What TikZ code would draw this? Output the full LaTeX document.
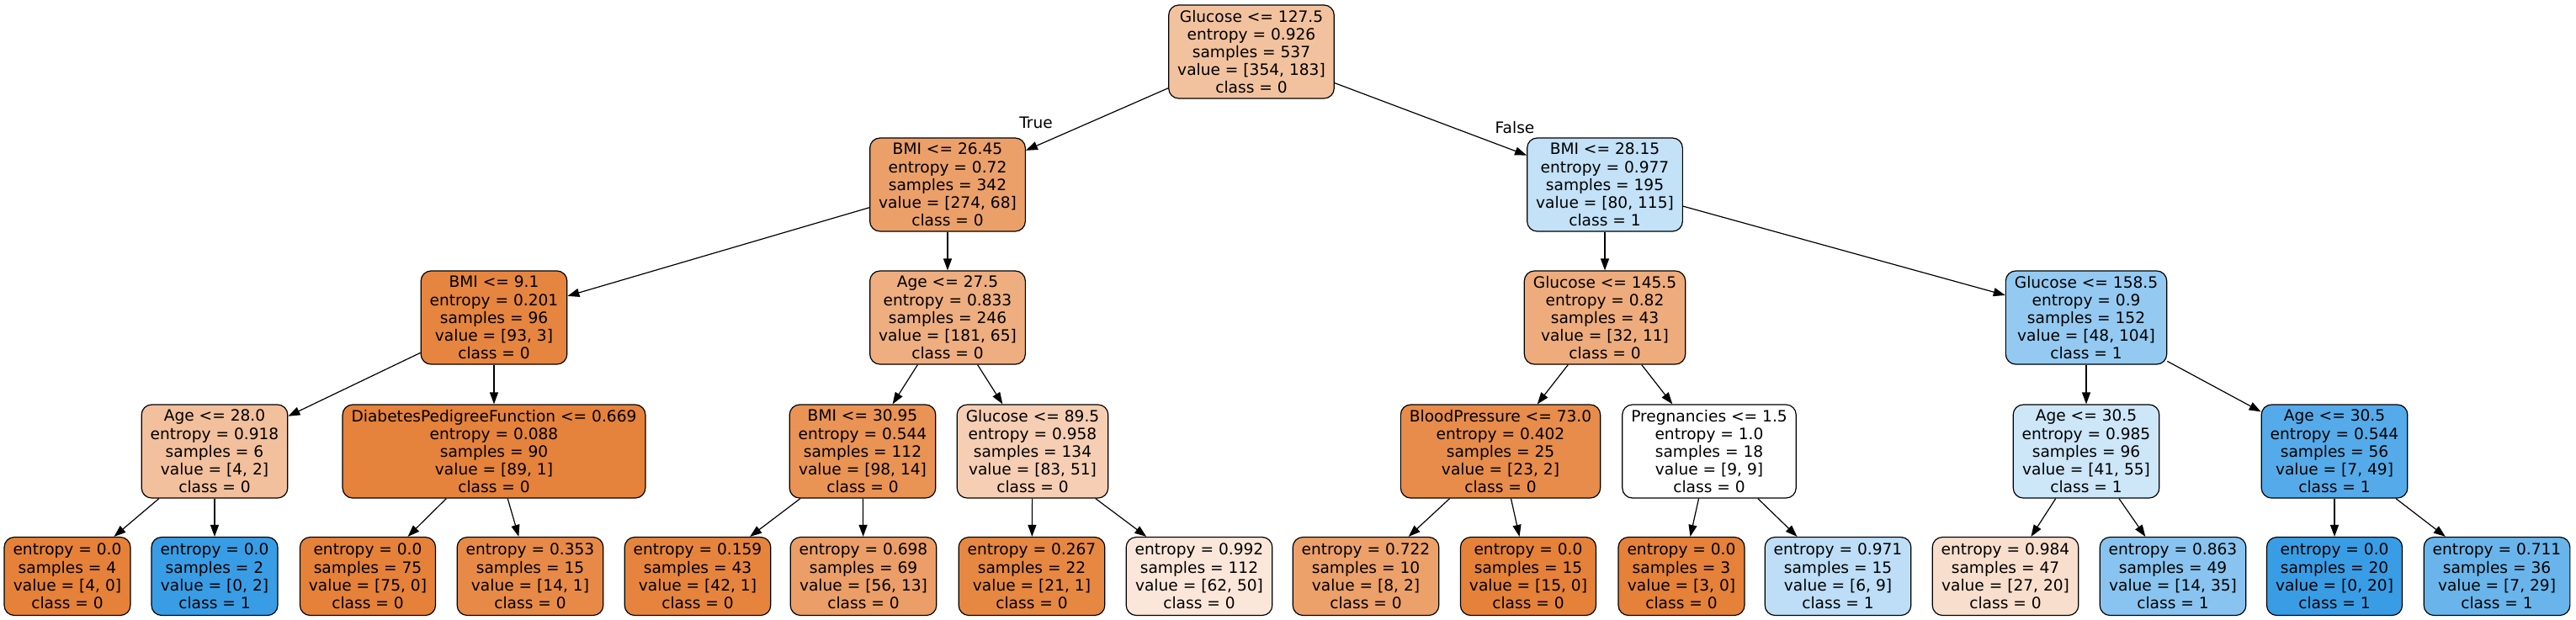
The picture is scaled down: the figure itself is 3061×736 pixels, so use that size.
\documentclass[tikz,border=0pt]{standalone}
\usepackage{fontspec}
\setmainfont{DejaVu Sans}
\usetikzlibrary{arrows.meta}
\definecolor{cRoot}{RGB}{242,194,159}
\definecolor{cA}{RGB}{235,160,106}
\definecolor{cB}{RGB}{195,225,247}
\definecolor{cAA}{RGB}{230,133,63}
\definecolor{cAB}{RGB}{238,174,128}
\definecolor{cBA}{RGB}{238,172,125}
\definecolor{cBB}{RGB}{148,202,241}
\definecolor{cAAA}{RGB}{242,192,156}
\definecolor{cAAB}{RGB}{229,130,59}
\definecolor{cABA}{RGB}{233,147,85}
\definecolor{cABB}{RGB}{245,206,179}
\definecolor{cBAA}{RGB}{231,140,74}
\definecolor{cBAB}{RGB}{255,255,255}
\definecolor{cBBA}{RGB}{205,230,248}
\definecolor{cBBB}{RGB}{85,171,233}
\definecolor{orangeP}{RGB}{229,129,57}
\definecolor{blueP}{RGB}{57,157,229}
\definecolor{lD}{RGB}{231,138,71}
\definecolor{lE}{RGB}{230,132,62}
\definecolor{lF}{RGB}{235,158,103}
\definecolor{lG}{RGB}{230,135,66}
\definecolor{lH}{RGB}{250,231,217}
\definecolor{lI}{RGB}{236,160,106}
\definecolor{lL}{RGB}{189,222,246}
\definecolor{lM}{RGB}{248,222,204}
\definecolor{lN}{RGB}{136,196,239}
\definecolor{lP}{RGB}{105,181,235}
\tikzset{
  tn/.style={draw=black, line width=0.6pt, rounded corners=6pt, align=center,
    inner xsep=5.25pt, inner ysep=2pt, font=\fontsize{9.3pt}{10.6pt}\selectfont},
  tnfive/.style={tn, minimum height=55.5pt},
  tnfour/.style={tn, minimum height=46.5pt},
  arr/.style={-{Triangle[length=7pt,width=5pt]}, line width=0.6pt},
  lbl/.style={font=\fontsize{9.3pt}{10.6pt}\selectfont, inner sep=0pt},
}
\begin{document}
\begin{tikzpicture}[x=0.5pt,y=-0.5pt]
\useasboundingbox (0,0) rectangle (3061,736);
% level 0
\node[tnfive, fill=cRoot] (n0) at (1487,61.5) {Glucose <= 127.5\\entropy = 0.926\\samples = 537\\value = [354, 183]\\class = 0};
% level 1
\node[tnfive, fill=cA] (a) at (1126,219.5) {BMI <= 26.45\\entropy = 0.72\\samples = 342\\value = [274, 68]\\class = 0};
\node[tnfive, fill=cB] (b) at (1907,219.5) {BMI <= 28.15\\entropy = 0.977\\samples = 195\\value = [80, 115]\\class = 1};
% level 2
\node[tnfive, fill=cAA] (aa) at (587,377.5) {BMI <= 9.1\\entropy = 0.201\\samples = 96\\value = [93, 3]\\class = 0};
\node[tnfive, fill=cAB] (ab) at (1126,377.5) {Age <= 27.5\\entropy = 0.833\\samples = 246\\value = [181, 65]\\class = 0};
\node[tnfive, fill=cBA] (ba) at (1907,377.5) {Glucose <= 145.5\\entropy = 0.82\\samples = 43\\value = [32, 11]\\class = 0};
\node[tnfive, fill=cBB] (bb) at (2479,377.5) {Glucose <= 158.5\\entropy = 0.9\\samples = 152\\value = [48, 104]\\class = 1};
% level 3
\node[tnfive, fill=cAAA] (aaa) at (255,536.5) {Age <= 28.0\\entropy = 0.918\\samples = 6\\value = [4, 2]\\class = 0};
\node[tnfive, fill=cAAB] (aab) at (587,536.5) {DiabetesPedigreeFunction <= 0.669\\entropy = 0.088\\samples = 90\\value = [89, 1]\\class = 0};
\node[tnfive, fill=cABA] (aba) at (1025,536.5) {BMI <= 30.95\\entropy = 0.544\\samples = 112\\value = [98, 14]\\class = 0};
\node[tnfive, fill=cABB] (abb) at (1227,536.5) {Glucose <= 89.5\\entropy = 0.958\\samples = 134\\value = [83, 51]\\class = 0};
\node[tnfive, fill=cBAA] (baa) at (1783,536.5) {BloodPressure <= 73.0\\entropy = 0.402\\samples = 25\\value = [23, 2]\\class = 0};
\node[tnfive, fill=cBAB] (bab) at (2031,536.5) {Pregnancies <= 1.5\\entropy = 1.0\\samples = 18\\value = [9, 9]\\class = 0};
\node[tnfive, fill=cBBA] (bba) at (2479,536.5) {Age <= 30.5\\entropy = 0.985\\samples = 96\\value = [41, 55]\\class = 1};
\node[tnfive, fill=cBBB] (bbb) at (2774,536.5) {Age <= 30.5\\entropy = 0.544\\samples = 56\\value = [7, 49]\\class = 1};
% level 4
\node[tnfour, fill=orangeP] (l1) at (80,685) {entropy = 0.0\\samples = 4\\value = [4, 0]\\class = 0};
\node[tnfour, fill=blueP] (l2) at (255,685) {entropy = 0.0\\samples = 2\\value = [0, 2]\\class = 1};
\node[tnfour, fill=orangeP] (l3) at (437,685) {entropy = 0.0\\samples = 75\\value = [75, 0]\\class = 0};
\node[tnfour, fill=lD] (l4) at (630,685) {entropy = 0.353\\samples = 15\\value = [14, 1]\\class = 0};
\node[tnfour, fill=lE] (l5) at (829,685) {entropy = 0.159\\samples = 43\\value = [42, 1]\\class = 0};
\node[tnfour, fill=lF] (l6) at (1026,685) {entropy = 0.698\\samples = 69\\value = [56, 13]\\class = 0};
\node[tnfour, fill=lG] (l7) at (1226,685) {entropy = 0.267\\samples = 22\\value = [21, 1]\\class = 0};
\node[tnfour, fill=lH] (l8) at (1425,685) {entropy = 0.992\\samples = 112\\value = [62, 50]\\class = 0};
\node[tnfour, fill=lI] (l9) at (1623,685) {entropy = 0.722\\samples = 10\\value = [8, 2]\\class = 0};
\node[tnfour, fill=orangeP] (l10) at (1816,685) {entropy = 0.0\\samples = 15\\value = [15, 0]\\class = 0};
\node[tnfour, fill=orangeP] (l11) at (1998,685) {entropy = 0.0\\samples = 3\\value = [3, 0]\\class = 0};
\node[tnfour, fill=lL] (l12) at (2184,685) {entropy = 0.971\\samples = 15\\value = [6, 9]\\class = 1};
\node[tnfour, fill=lM] (l13) at (2383,685) {entropy = 0.984\\samples = 47\\value = [27, 20]\\class = 0};
\node[tnfour, fill=lN] (l14) at (2582,685) {entropy = 0.863\\samples = 49\\value = [14, 35]\\class = 1};
\node[tnfour, fill=blueP] (l15) at (2774,685) {entropy = 0.0\\samples = 20\\value = [0, 20]\\class = 1};
\node[tnfour, fill=lP] (l16) at (2967,685) {entropy = 0.711\\samples = 36\\value = [7, 29]\\class = 1};
% edge labels
\node[lbl] (tlab) at (1231,146) {True};
\node[lbl] (flab) at (1800,152) {False};
% edges
\draw[arr] (n0) -- (a);
\draw[arr] (n0) -- (b);
\draw[arr] (a) -- (aa);
\draw[arr] (a) -- (ab);
\draw[arr] (b) -- (ba);
\draw[arr] (b) -- (bb);
\draw[arr] (aa) -- (aaa);
\draw[arr] (aa) -- (aab);
\draw[arr] (ab) -- (aba);
\draw[arr] (ab) -- (abb);
\draw[arr] (ba) -- (baa);
\draw[arr] (ba) -- (bab);
\draw[arr] (bb) -- (bba);
\draw[arr] (bb) -- (bbb);
\draw[arr] (aaa) -- (l1);
\draw[arr] (aaa) -- (l2);
\draw[arr] (aab) -- (l3);
\draw[arr] (aab) -- (l4);
\draw[arr] (aba) -- (l5);
\draw[arr] (aba) -- (l6);
\draw[arr] (abb) -- (l7);
\draw[arr] (abb) -- (l8);
\draw[arr] (baa) -- (l9);
\draw[arr] (baa) -- (l10);
\draw[arr] (bab) -- (l11);
\draw[arr] (bab) -- (l12);
\draw[arr] (bba) -- (l13);
\draw[arr] (bba) -- (l14);
\draw[arr] (bbb) -- (l15);
\draw[arr] (bbb) -- (l16);
\end{tikzpicture}
\end{document}
